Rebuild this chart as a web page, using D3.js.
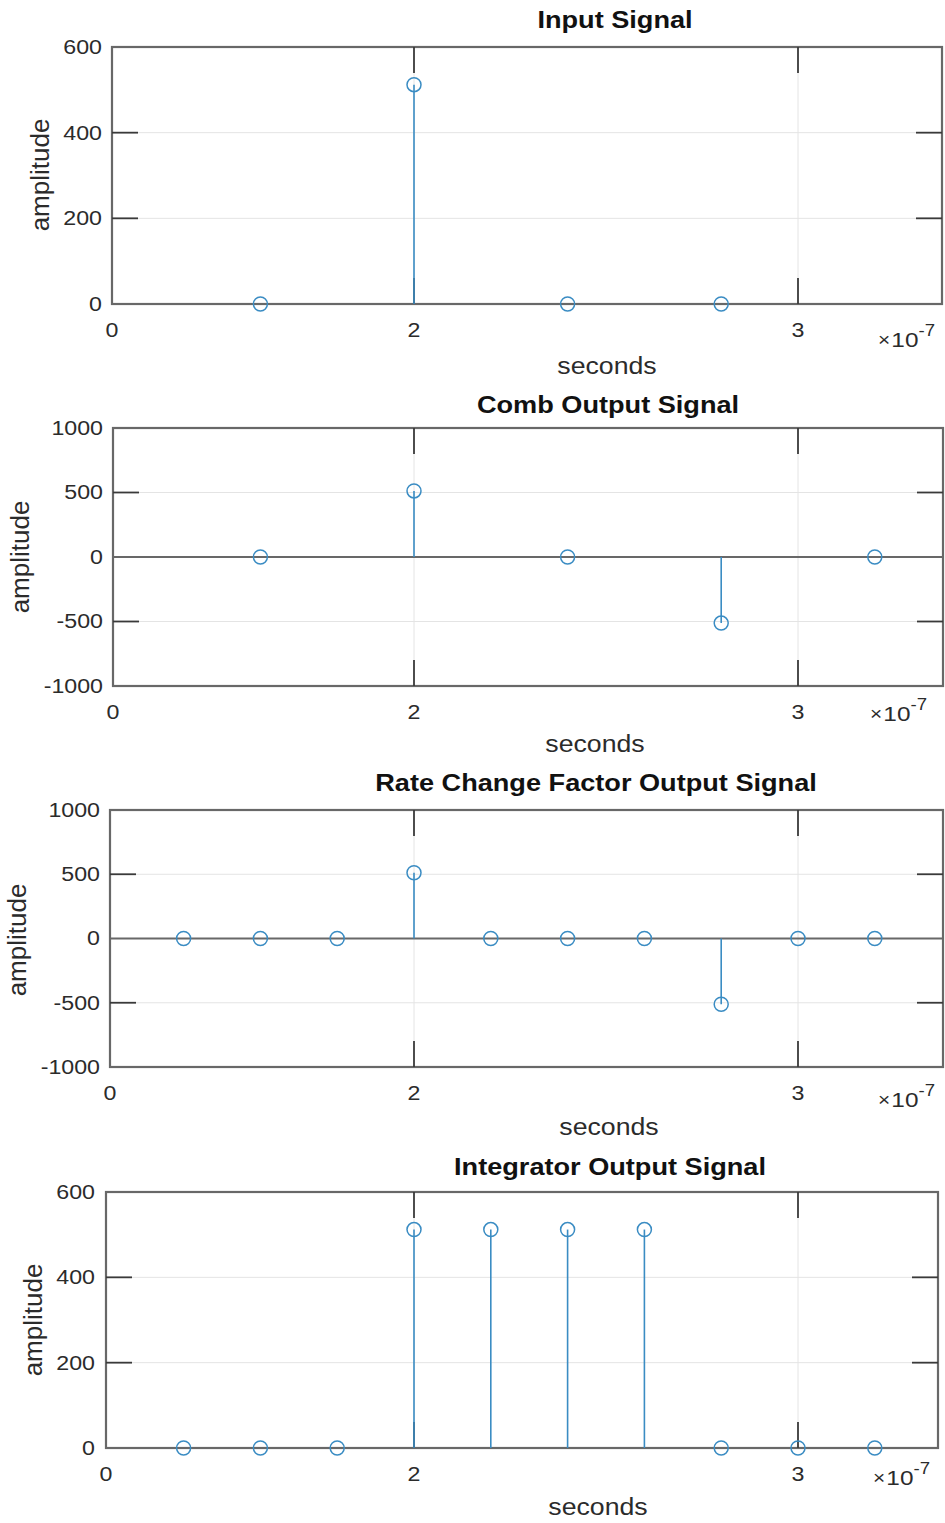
<!DOCTYPE html>
<html>
<head>
<meta charset="utf-8">
<script src="https://cdn.jsdelivr.net/npm/d3@7"></script>
<style>
  html, body { margin: 0; padding: 0; background: #fff; }
  svg { display: block; }
  text { font-family: "Liberation Sans", Arial, Helvetica, sans-serif; }
</style>
</head>
<body>
<svg id="fig" width="945" height="1523"></svg>
<script>
// ---- signal samples (time in units of 1e-7 s) ----
const inputTimes = [1.6, 2.0, 2.4, 2.8];
const inputValues = [0, 512, 0, 0];

const combTimes = [1.6, 2.0, 2.4, 2.8, 3.2];
const combValues = [0, 512, 0, -512, 0];

const rateTimes = [1.4, 1.6, 1.8, 2.0, 2.2, 2.4, 2.6, 2.8, 3.0, 3.2];
const rateValues = [0, 0, 0, 512, 0, 0, 0, -512, 0, 0];

const integTimes = [1.4, 1.6, 1.8, 2.0, 2.2, 2.4, 2.6, 2.8, 3.0, 3.2];
const integValues = [0, 0, 0, 512, 512, 512, 512, 0, 0, 0];

const panelTitles = ["Input Signal", "Comb Output Signal", "Rate Change Factor Output Signal", "Integrator Output Signal"];

// ---- axis ticks ----
const posTicks = [0, 200, 400, 600];
const symTicks = [-1000, -500, 0, 500, 1000];
const xTickValues = [2, 3];
const xTickLabels = ["2", "3"];
const xOriginLabel = "0";
const xLabel = "seconds";
const yLabel = "amplitude";

// ---- figure layout (pixels) ----
const layout = [
  { L: 112, R: 942, T: 47,   B: 304,  titleX: 615, titleY: 20,   yLabX: 40, yLabY: 175,  tickR: 102, secX: 607, secDy: 62, expX: 878, expDy: 36 },
  { L: 113, R: 943, T: 428,  B: 686,  titleX: 608, titleY: 405,  yLabX: 20, yLabY: 557,  tickR: 103, secX: 595, secDy: 58, expX: 870, expDy: 28 },
  { L: 110, R: 943, T: 810,  B: 1067, titleX: 596, titleY: 783,  yLabX: 17, yLabY: 940,  tickR: 100, secX: 609, secDy: 60, expX: 878, expDy: 33 },
  { L: 106, R: 938, T: 1192, B: 1448, titleX: 610, titleY: 1167, yLabX: 33, yLabY: 1320, tickR: 95,  secX: 598, secDy: 59, expX: 873, expDy: 30 }
];

const panels = [
  { times: inputTimes, values: inputValues, ticks: posTicks },
  { times: combTimes,  values: combValues,  ticks: symTicks },
  { times: rateTimes,  values: rateValues,  ticks: symTicks },
  { times: integTimes, values: integValues, ticks: posTicks }
];

const stemColor = "#3a8cc3";
const boxColor = "#686868";
const tickColor = "#3a3a3a";
const gridColor = "#e4e4e4";
const textColor = "#2b2b2b";
const SX = 1.16;      // horizontal text widening
const tickLen = 26;

const svg = d3.select("#fig");

// common time scale shared by all panels
const xBase = d3.scaleLinear().domain([2, 3]).range([414, 798]);

function stretchedText(g, x, y, str, size, opts = {}) {
  const t = g.append("text")
    .attr("transform", `translate(${x},${y}) scale(${opts.sx || SX},1)`)
    .attr("font-size", size)
    .attr("fill", opts.fill || textColor)
    .attr("text-anchor", opts.anchor || "middle")
    .attr("dominant-baseline", "central")
    .text(str);
  if (opts.weight) t.attr("font-weight", opts.weight);
  return t;
}

panels.forEach((p, i) => {
  const lo = layout[i];
  const g = svg.append("g");
  const x = d3.scaleLinear()
    .domain([xBase.invert(lo.L), xBase.invert(lo.R)])
    .range([lo.L, lo.R]);
  const y = d3.scaleLinear()
    .domain(d3.extent(p.ticks))
    .range([lo.B, lo.T]);

  // grid
  g.selectAll(".hgrid").data(p.ticks).join("line")
    .attr("x1", lo.L).attr("x2", lo.R)
    .attr("y1", d => y(d)).attr("y2", d => y(d))
    .attr("stroke", gridColor).attr("stroke-width", 1);
  g.selectAll(".vgrid").data(xTickValues).join("line")
    .attr("x1", d => x(d)).attr("x2", d => x(d))
    .attr("y1", lo.T).attr("y2", lo.B)
    .attr("stroke", gridColor).attr("stroke-width", 1);

  // stem baseline at zero
  g.append("line")
    .attr("x1", lo.L).attr("x2", lo.R)
    .attr("y1", y(0)).attr("y2", y(0))
    .attr("stroke", boxColor).attr("stroke-width", 2.2);

  // box
  g.append("rect")
    .attr("x", lo.L).attr("y", lo.T)
    .attr("width", lo.R - lo.L).attr("height", lo.B - lo.T)
    .attr("fill", "none").attr("stroke", boxColor).attr("stroke-width", 2.2);

  // tick marks (inside, on all four sides)
  const yInner = p.ticks.filter(d => d !== 0 && d !== y.domain()[0] && d !== y.domain()[1]);
  g.selectAll(".ytl").data(yInner).join("line")
    .attr("x1", lo.L).attr("x2", lo.L + tickLen)
    .attr("y1", d => y(d)).attr("y2", d => y(d))
    .attr("stroke", tickColor).attr("stroke-width", 1.8);
  g.selectAll(".ytr").data(yInner).join("line")
    .attr("x1", lo.R).attr("x2", lo.R - tickLen)
    .attr("y1", d => y(d)).attr("y2", d => y(d))
    .attr("stroke", tickColor).attr("stroke-width", 1.8);
  g.selectAll(".xtt").data(xTickValues).join("line")
    .attr("x1", d => x(d)).attr("x2", d => x(d))
    .attr("y1", lo.T).attr("y2", lo.T + tickLen)
    .attr("stroke", tickColor).attr("stroke-width", 1.8);
  g.selectAll(".xtb").data(xTickValues).join("line")
    .attr("x1", d => x(d)).attr("x2", d => x(d))
    .attr("y1", lo.B).attr("y2", lo.B - tickLen)
    .attr("stroke", tickColor).attr("stroke-width", 1.8);

  // stems
  const pts = p.times.map((t, k) => ({ t, v: p.values[k] }));
  g.selectAll(".stem").data(pts.filter(d => d.v !== 0)).join("line")
    .attr("x1", d => x(d.t)).attr("x2", d => x(d.t))
    .attr("y1", y(0)).attr("y2", d => y(d.v))
    .attr("stroke", stemColor).attr("stroke-width", 1.6);
  g.selectAll(".mk").data(pts).join("circle")
    .attr("cx", d => x(d.t)).attr("cy", d => y(d.v))
    .attr("r", 7)
    .attr("fill", "none").attr("stroke", stemColor).attr("stroke-width", 1.5);

  // y tick labels
  p.ticks.forEach(d => {
    stretchedText(g, lo.tickR, y(d), String(d), 20, { anchor: "end" });
  });

  // x tick labels
  stretchedText(g, lo.L, lo.B + 26, xOriginLabel, 20);
  xTickValues.forEach((d, k) => {
    stretchedText(g, x(d), lo.B + 26, xTickLabels[k], 20);
  });

  // exponent note
  const ex = g.append("text")
    .attr("transform", `translate(${lo.expX},${lo.B + lo.expDy}) scale(${SX},1)`)
    .attr("fill", textColor)
    .attr("dominant-baseline", "central");
  ex.append("tspan").attr("font-size", 18).text("\u00d7");
  ex.append("tspan").attr("font-size", 21).attr("dx", 1).text("10");
  ex.append("tspan").attr("font-size", 16).attr("dy", -10).text("-7");

  // axis labels
  stretchedText(g, lo.secX, lo.B + lo.secDy, xLabel, 23);
  g.append("text")
    .attr("transform", `translate(${lo.yLabX},${lo.yLabY}) rotate(-90)`)
    .attr("font-size", 26)
    .attr("fill", textColor)
    .attr("text-anchor", "middle")
    .attr("dominant-baseline", "central")
    .text(yLabel);

  // title
  stretchedText(g, lo.titleX, lo.titleY, panelTitles[i], 23, { weight: "bold", fill: "#111", sx: 1.18 });
});
</script>
</body>
</html>
